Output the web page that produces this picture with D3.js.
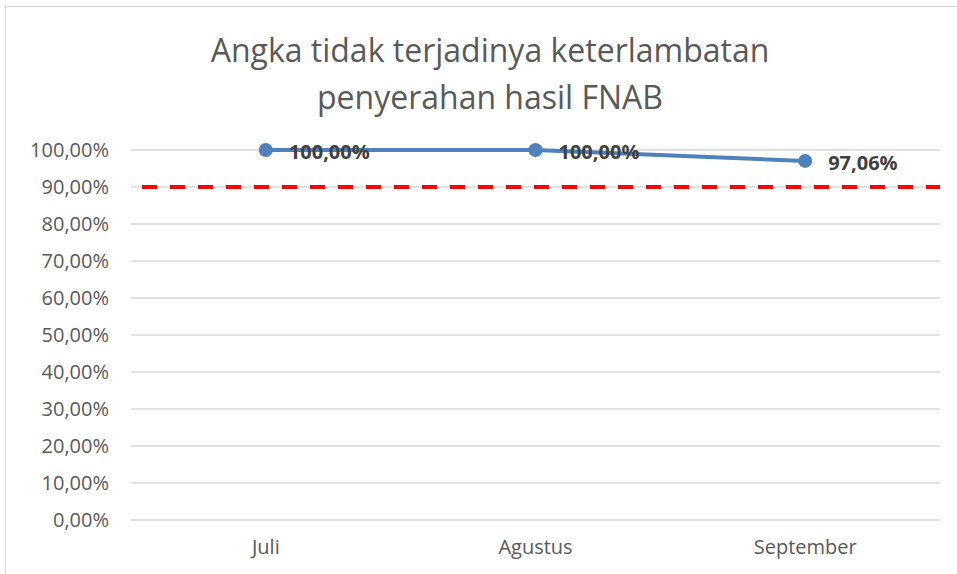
<!DOCTYPE html>
<html>
<head>
<meta charset="utf-8">
<script src="https://cdn.jsdelivr.net/npm/d3@7"></script>
<style>
  body { margin: 0; background: #fff; }
  svg { display: block; font-family: "Open Sans", sans-serif; }
</style>
</head>
<body>
<script>
// chart data
var months = ["Juli", "Agustus", "September"];
var rates = [1.0, 1.0, 0.9706];
var target = 0.9;
var yTicks = [0, 0.1, 0.2, 0.3, 0.4, 0.5, 0.6, 0.7, 0.8, 0.9, 1.0];
var titleLines = ["Angka tidak terjadinya keterlambatan", "penyerahan hasil FNAB"];

var W = 957, H = 574;
var margin = {top: 150, right: 17, bottom: 54, left: 131},
    width = W - margin.left - margin.right,
    height = H - margin.top - margin.bottom;

var fmt = function(v) { return d3.format(".2f")(v * 100).replace(".", ",") + "%"; };

var svg = d3.select("body").append("svg")
    .attr("width", W)
    .attr("height", H);

// chart border
svg.append("rect")
    .attr("x", 5.5).attr("y", 6.5)
    .attr("width", W + 10).attr("height", H + 10)
    .attr("fill", "none")
    .attr("stroke", "#d9d9d9");

var g = svg.append("g")
    .attr("transform", "translate(" + margin.left + "," + margin.top + ")");

var x = d3.scaleBand().domain(months).range([0, width]);
var y = d3.scaleLinear().domain([0, 1]).range([height, 0]);

// gridlines
g.selectAll(".grid")
    .data(yTicks)
  .enter().append("line")
    .attr("x1", 0).attr("x2", width)
    .attr("y1", function(d) { return y(d); })
    .attr("y2", function(d) { return y(d); })
    .attr("stroke", "#d9d9d9")
    .attr("stroke-width", 1.3);

// y axis
var yAxis = g.append("g")
    .call(d3.axisLeft(y).tickValues(yTicks).tickFormat(fmt).tickSize(0).tickPadding(22));
yAxis.select(".domain").remove();
yAxis.selectAll("text")
    .attr("fill", "#595959")
    .style("font-size", "20px")
    .style("font-family", "Open Sans, sans-serif");

// x axis
var xAxis = g.append("g")
    .attr("transform", "translate(0," + height + ")")
    .call(d3.axisBottom(x).tickSize(0).tickPadding(20));
xAxis.select(".domain").remove();
xAxis.selectAll("text")
    .attr("fill", "#595959")
    .style("font-size", "20px")
    .style("font-family", "Open Sans, sans-serif");

// target line
g.append("line")
    .attr("x1", 11).attr("x2", width)
    .attr("y1", y(target)).attr("y2", y(target))
    .attr("stroke", "#ff0000")
    .attr("stroke-width", 4)
    .attr("stroke-dasharray", "15,13");

var cx = function(d, i) { return x(months[i]) + x.bandwidth() / 2; };

// series line
var line = d3.line()
    .x(function(d, i) { return cx(d, i); })
    .y(function(d) { return y(d); });

g.append("path")
    .datum(rates)
    .attr("fill", "none")
    .attr("stroke", "#4f81bd")
    .attr("stroke-width", 4)
    .attr("d", line);

g.selectAll(".dot")
    .data(rates)
  .enter().append("circle")
    .attr("cx", cx)
    .attr("cy", function(d) { return y(d); })
    .attr("r", 7)
    .attr("fill", "#4f81bd");

// data labels
g.selectAll(".lbl")
    .data(rates)
  .enter().append("text")
    .attr("x", function(d, i) { return cx(d, i) + 23; })
    .attr("y", function(d) { return y(d) + 2; })
    .attr("dy", "0.35em")
    .attr("fill", "#404040")
    .style("font-size", "20px")
    .style("font-weight", "bold")
    .text(fmt);

// title
svg.selectAll(".title")
    .data(titleLines)
  .enter().append("text")
    .attr("x", 490)
    .attr("y", function(d, i) { return 51 + i * 47; })
    .attr("dy", "0.35em")
    .attr("text-anchor", "middle")
    .attr("fill", "#595959")
    .style("font-size", "32px")
    .text(function(d) { return d; });
</script>
</body>
</html>
